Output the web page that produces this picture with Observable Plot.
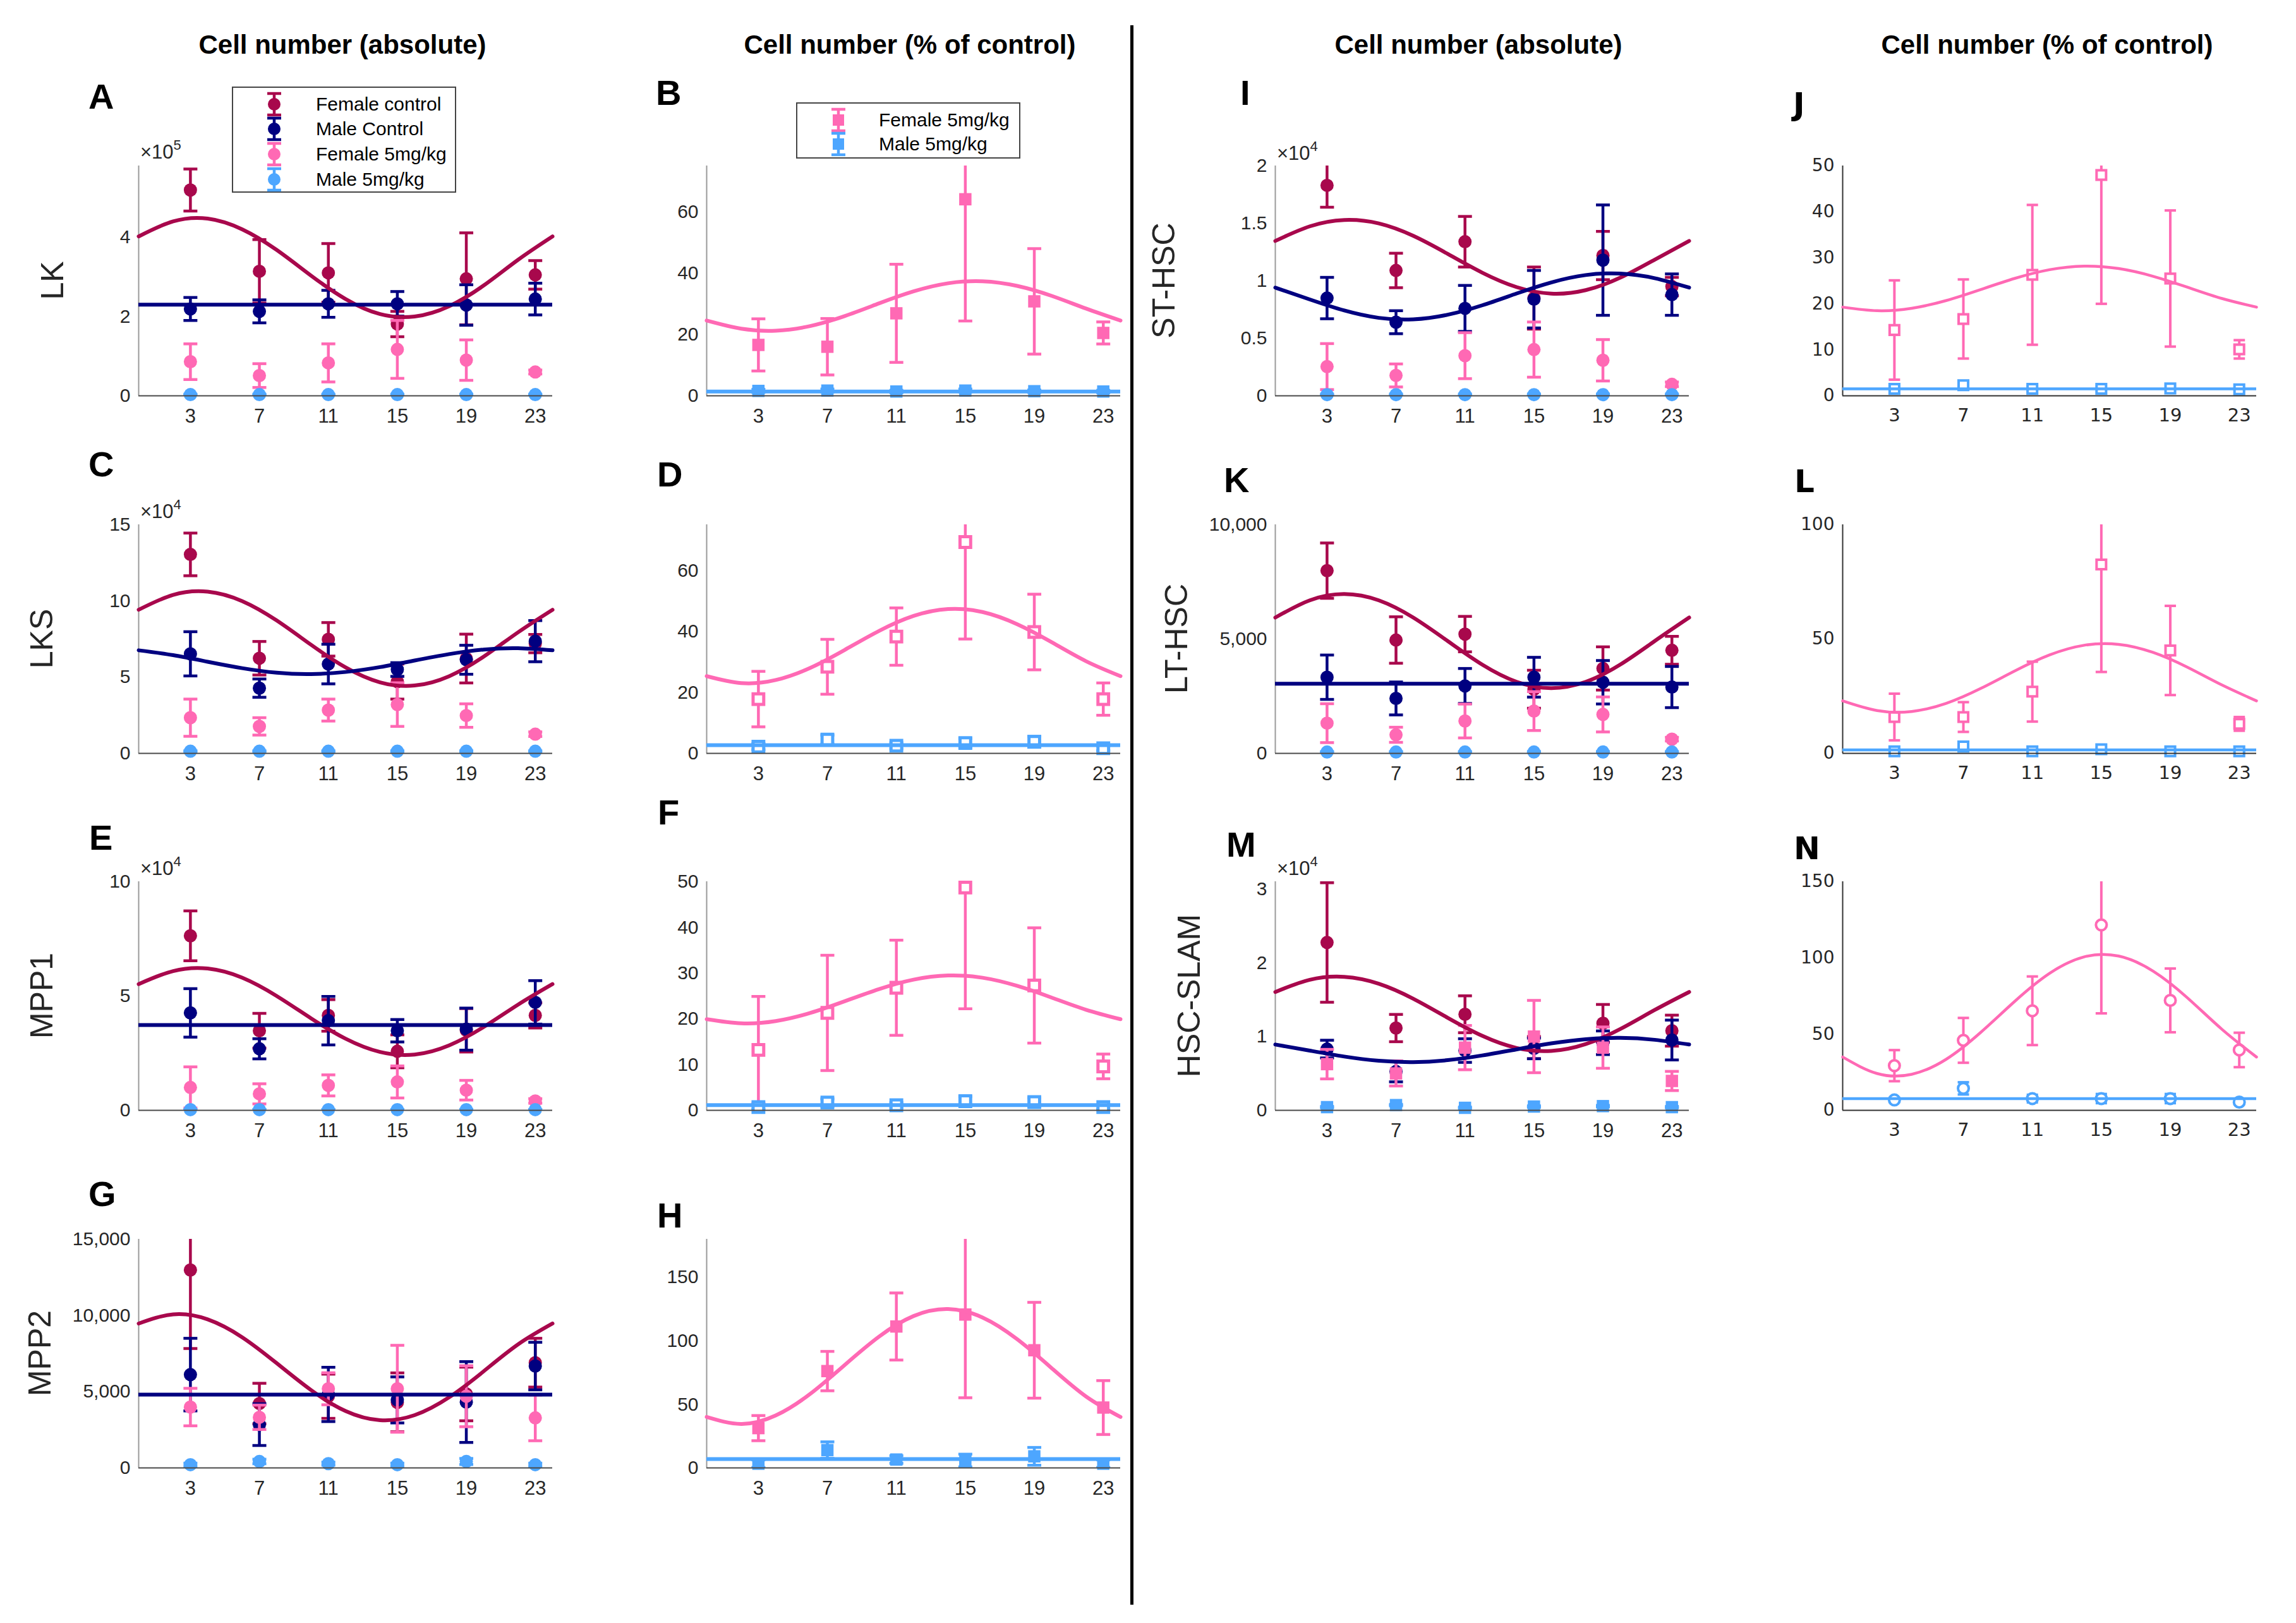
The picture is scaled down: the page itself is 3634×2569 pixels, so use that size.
<!DOCTYPE html>
<html><head><meta charset="utf-8">
<script src="https://cdn.jsdelivr.net/npm/d3@7"></script>
<script src="https://cdn.jsdelivr.net/npm/@observablehq/plot@0.6"></script>
<style>
html,body{margin:0;padding:0;background:#fff;}
#fig{position:relative;width:3634px;height:2569px;background:#fff;overflow:hidden;font-family:"Liberation Sans",Arial,sans-serif;color:#262626;}
#fig > div{position:absolute;}
.title{font-weight:bold;font-size:42px;color:#000;white-space:nowrap;transform:translateX(-50%);line-height:1;}
.letter{font-weight:bold;font-size:56px;color:#000;line-height:1;}
.letter4{font-family:"DejaVu Sans",sans-serif;font-weight:bold;font-size:50px;color:#000;line-height:1;}
.ylab{font-size:50px;white-space:nowrap;transform:translate(-50%,-50%) rotate(-90deg);line-height:1;color:#262626;}
.expo{font-size:31px;white-space:nowrap;line-height:1;color:#262626;}
.expo sup{font-size:22px;position:relative;top:-14px;vertical-align:baseline;}
.legend{background:#fff;border:2px solid #444;box-sizing:border-box;}
.legend .row{position:absolute;display:flex;align-items:center;font-size:30px;white-space:nowrap;color:#000;}
</style>
</head><body>
<div id="fig"></div>
<script>
// ---------- shared categories ----------
const hours = [3, 7, 11, 15, 19, 23];
const fitHours = [0, 2, 4, 6, 8, 10, 12, 14, 16, 18, 20, 22, 24];
const xTickValues = [3, 7, 11, 15, 19, 23];
const groupNames = ["Female control", "Male Control", "Female 5mg/kg", "Male 5mg/kg"];
const groupColors = ["#a8084c", "#000080", "#ff69b4", "#4da6ff"];
const columnTitles = ["Cell number (absolute)", "Cell number (% of control)", "Cell number (absolute)", "Cell number (% of control)"];
const panelLetters = ["A","B","C","D","E","F","G","H","I","J","K","L","M","N"];
const rowLabels = ["LK", "LKS", "MPP1", "MPP2", "ST-HSC", "LT-HSC", "HSC-SLAM"];

// ---------- A: LK (x10^5) ----------
const A_fc = [5.19, 3.14, 3.10, 1.81, 2.95, 3.05];
const A_fcErr = [0.53, 0.80, 0.74, 0.32, 1.16, 0.36];
const A_mc = [2.19, 2.13, 2.32, 2.32, 2.29, 2.44];
const A_mcErr = [0.29, 0.29, 0.34, 0.31, 0.51, 0.40];
const A_fd = [0.86, 0.51, 0.83, 1.17, 0.90, 0.60];
const A_fdErr = [0.45, 0.30, 0.48, 0.73, 0.51, 0.05];
const A_md = [0.03, 0.03, 0.03, 0.03, 0.03, 0.03];
const A_mdErr = [0.01, 0.01, 0.01, 0.01, 0.01, 0.01];
const A_fcFit = [4.02, 4.40, 4.47, 4.20, 3.68, 3.03, 2.44, 2.06, 2.00, 2.26, 2.78, 3.43, 4.02];
const A_mcFit = 2.30;
const A_yTicks = [0, 2, 4];

// ---------- C: LKS (x10^4) ----------
const C_fc = [13.05, 6.24, 7.48, 4.71, 6.22, 7.20];
const C_fcErr = [1.40, 1.10, 1.10, 1.15, 1.60, 0.60];
const C_mc = [6.53, 4.28, 5.86, 5.50, 6.14, 7.36];
const C_mcErr = [1.45, 0.60, 1.30, 0.45, 0.95, 1.35];
const C_fd = [2.34, 1.77, 2.84, 3.20, 2.48, 1.26];
const C_fdErr = [1.22, 0.57, 0.72, 1.43, 0.77, 0.15];
const C_md = [0.14, 0.14, 0.14, 0.14, 0.14, 0.14];
const C_mdErr = [0.03, 0.03, 0.03, 0.03, 0.03, 0.03];
const C_fcFit = [9.42, 10.40, 10.61, 9.99, 8.72, 7.12, 5.64, 4.66, 4.45, 5.06, 6.34, 7.94, 9.42];
const C_mcFit = [6.76, 6.44, 6.01, 5.59, 5.29, 5.20, 5.34, 5.66, 6.09, 6.51, 6.81, 6.90, 6.76];
const C_yTicks = [0, 5, 10, 15];

// ---------- E: MPP1 (x10^4) ----------
const E_fc = [7.63, 3.48, 4.15, 2.58, 3.50, 4.15];
const E_fcErr = [1.09, 0.76, 0.69, 0.72, 0.95, 0.55];
const E_mc = [4.26, 2.69, 3.92, 3.48, 3.55, 4.72];
const E_mcErr = [1.06, 0.44, 1.06, 0.49, 0.92, 0.95];
const E_fd = [1.00, 0.72, 1.09, 1.24, 0.88, 0.41];
const E_fdErr = [0.90, 0.44, 0.46, 0.70, 0.43, 0.10];
const E_md = [0.03, 0.03, 0.03, 0.03, 0.03, 0.03];
const E_mdErr = [0.01, 0.01, 0.01, 0.01, 0.01, 0.01];
const E_fcFit = [5.52, 6.09, 6.20, 5.80, 5.00, 4.02, 3.13, 2.55, 2.44, 2.84, 3.64, 4.62, 5.52];
const E_mcFit = 3.73;
const E_yTicks = [0, 5, 10];

// ---------- G: MPP2 ----------
const G_fc = [12980, 4220, 4700, 4300, 4850, 6900];
const G_fcErr = [5150, 1330, 1450, 1930, 1760, 1600];
const G_mc = [6120, 2840, 4820, 4460, 4320, 6680];
const G_mcErr = [2380, 1370, 1780, 1510, 2650, 1560];
const G_fd = [3990, 3320, 5190, 5190, 4700, 3280];
const G_fdErr = [1230, 800, 1050, 2850, 2000, 1500];
const G_md = [210, 420, 280, 210, 420, 210];
const G_mdErr = [100, 150, 100, 100, 200, 100];
const G_fcFit = [9470, 10070, 9740, 8570, 6870, 5100, 3730, 3130, 3460, 4630, 6330, 8100, 9470];
const G_mcFit = 4810;
const G_yTicks = [0, 5000, 10000, 15000];

// ---------- B, D, F, H: % of control ----------
const B_fd = [16.6, 16.0, 26.9, 64.1, 30.8, 20.5];
const B_fdErr = [8.5, 9.2, 16.0, 39.7, 17.2, 3.6];
const B_md = [1.6, 1.7, 1.4, 1.7, 1.5, 1.4];
const B_mdErr = [0.5, 0.5, 0.4, 0.5, 0.4, 0.4];
const B_fdFit = [24.54, 21.90, 21.24, 22.75, 26.00, 30.15, 34.06, 36.70, 37.36, 35.85, 32.60, 28.45, 24.54];
const B_mdFit = 1.4;
const B_yTicks = [0, 20, 40, 60];

const D_fd = [17.8, 28.4, 38.3, 69.3, 39.8, 17.8];
const D_fdErr = [9.1, 9.0, 9.4, 31.8, 12.4, 5.3];
const D_md = [2.2, 4.5, 2.5, 3.4, 3.8, 1.7];
const D_mdErr = [1.0, 1.5, 1.0, 1.5, 1.8, 0.8];
const D_fdFit = [25.33, 23.06, 24.05, 28.03, 33.92, 40.17, 45.07, 47.34, 46.35, 42.37, 36.48, 30.23, 25.33];
const D_mdFit = 2.7;
const D_yTicks = [0, 20, 40, 60];

const F_fd = [13.2, 21.3, 26.8, 48.7, 27.3, 9.6];
const F_fdErr = [11.7, 12.6, 10.4, 26.5, 12.6, 2.7];
const F_md = [0.7, 1.7, 1.1, 2.0, 1.8, 0.7];
const F_mdErr = [0.5, 0.8, 0.6, 1.0, 0.9, 0.5];
const F_fdFit = [19.92, 19.02, 19.51, 21.28, 23.84, 26.51, 28.58, 29.48, 28.99, 27.22, 24.66, 21.99, 19.92];
const F_mdFit = 1.15;
const F_yTicks = [0, 10, 20, 30, 40, 50];

const H_fd = [31.3, 76.2, 111.3, 120.7, 92.6, 47.5];
const H_fdErr = [9.9, 15.5, 26.4, 65.5, 37.7, 21.2];
const H_md = [3.3, 14.0, 6.6, 5.8, 9.1, 3.3];
const H_mdErr = [3.0, 6.5, 3.0, 5.0, 7.0, 3.0];
const H_fdFit = [40.07, 34.61, 41.24, 58.24, 80.98, 103.39, 119.53, 125.0, 118.36, 101.36, 78.62, 56.21, 40.07];
const H_mdFit = 6.9;
const H_yTicks = [0, 50, 100, 150];

// ---------- I: ST-HSC (x10^4) ----------
const I_fc = [1.83, 1.09, 1.34, 0.85, 1.22, 0.95];
const I_fcErr = [0.19, 0.15, 0.22, 0.27, 0.21, 0.08];
const I_mc = [0.85, 0.64, 0.76, 0.84, 1.18, 0.88];
const I_mcErr = [0.18, 0.10, 0.20, 0.25, 0.48, 0.18];
const I_fd = [0.254, 0.177, 0.349, 0.402, 0.309, 0.10];
const I_fdErr = [0.20, 0.10, 0.20, 0.24, 0.18, 0.02];
const I_md = [0.01, 0.01, 0.01, 0.01, 0.01, 0.01];
const I_mdErr = [0.005, 0.005, 0.005, 0.005, 0.005, 0.005];
const I_fcFit = [1.347, 1.474, 1.529, 1.499, 1.391, 1.234, 1.071, 0.945, 0.889, 0.919, 1.027, 1.184, 1.347];
const I_mcFit = [0.941, 0.838, 0.742, 0.678, 0.665, 0.705, 0.787, 0.890, 0.986, 1.050, 1.063, 1.023, 0.941];
const I_yTicks = [0, 0.5, 1, 1.5, 2];

// ---------- K: LT-HSC ----------
const K_fc = [7990, 4957, 5215, 2804, 3713, 4507];
const K_fcErr = [1210, 1015, 775, 830, 945, 610];
const K_mc = [3330, 2402, 2947, 3330, 3110, 2900];
const K_mcErr = [970, 720, 765, 870, 950, 900];
const K_fd = [1321, 813, 1416, 1850, 1703, 622];
const K_fdErr = [850, 330, 740, 850, 765, 80];
const K_md = [60, 60, 60, 60, 60, 60];
const K_mdErr = [20, 20, 20, 20, 20, 20];
const K_fcFit = [5939, 6692, 6968, 6692, 5939, 4910, 3881, 3128, 2852, 3128, 3881, 4910, 5939];
const K_mcFit = 3043;
const K_yTicks = [0, 5000, 10000];

// ---------- M: HSC-SLAM (x10^4) ----------
const M_fc = [2.275, 1.115, 1.302, 0.85, 1.18, 1.08];
const M_fcErr = [0.81, 0.185, 0.25, 0.15, 0.255, 0.21];
const M_mc = [0.83, 0.526, 0.81, 0.839, 0.916, 0.953];
const M_mcErr = [0.12, 0.14, 0.16, 0.14, 0.16, 0.27];
const M_fd = [0.626, 0.50, 0.85, 1.00, 0.85, 0.398];
const M_fdErr = [0.20, 0.17, 0.30, 0.49, 0.28, 0.13];
const M_md = [0.043, 0.071, 0.034, 0.051, 0.057, 0.043];
const M_mdErr = [0.01, 0.01, 0.01, 0.01, 0.01, 0.01];
const M_fcFit = [1.604, 1.769, 1.809, 1.716, 1.513, 1.254, 1.010, 0.845, 0.805, 0.898, 1.101, 1.360, 1.604];
const M_mcFit = [0.892, 0.809, 0.729, 0.672, 0.654, 0.680, 0.744, 0.827, 0.907, 0.964, 0.982, 0.956, 0.892];
const M_yTicks = [0, 1, 2, 3];

// ---------- J, L, N: % of control ----------
const J_fd = [14.3, 16.7, 26.3, 48.0, 25.5, 10.1];
const J_fdErr = [10.8, 8.6, 15.2, 28.0, 14.8, 2.0];
const J_md = [1.5, 2.3, 1.5, 1.5, 1.6, 1.4];
const J_mdErr = [0.6, 0.6, 0.6, 0.6, 0.8, 0.4];
const J_fdFit = [19.28, 18.50, 19.03, 20.71, 23.10, 25.55, 27.42, 28.20, 27.67, 25.99, 23.60, 21.15, 19.28];
const J_mdFit = 1.5;
const J_yTicks = [0, 10, 20, 30, 40, 50];

const L_fd = [15.9, 15.9, 27.0, 82.6, 45.0, 12.9];
const L_fdErr = [10.2, 6.5, 13.1, 47.0, 19.5, 3.0];
const L_md = [0.9, 3.0, 0.9, 1.8, 0.9, 0.9];
const L_mdErr = [0.5, 1.0, 0.5, 0.5, 0.5, 0.5];
const L_fdFit = [22.96, 18.73, 18.33, 21.85, 28.36, 36.12, 43.04, 47.27, 47.67, 44.15, 37.64, 29.88, 22.96];
const L_mdFit = 1.5;
const L_yTicks = [0, 50, 100];

const N_fd = [29.3, 45.9, 65.3, 121.6, 72.1, 39.6];
const N_fdErr = [10.2, 14.7, 22.5, 58.0, 20.9, 11.3];
const N_md = [6.8, 14.4, 7.7, 7.7, 7.7, 5.4];
const N_mdErr = [1.5, 4.0, 2.5, 3.0, 3.0, 1.5];
const N_fdFit = [34.95, 24.14, 23.62, 33.47, 51.07, 71.70, 89.85, 100.66, 101.18, 91.33, 73.73, 53.10, 34.95];
const N_mdFit = 7.7;
const N_yTicks = [0, 50, 100, 150];

// ---------- drawing ----------
const fig = document.getElementById("fig");
const [FC, MC, FD, MD] = groupColors;
const capSymbol = {draw(ctx, size) { const r = Math.sqrt(size / Math.PI); ctx.moveTo(-r, 0); ctx.lineTo(r, 0); }};
const fmtG = d3.format("~g");
const fmtComma = d3.format(",");

function rows(mean, err) {
  return hours.map((h, i) => ({h, v: mean[i], lo: mean[i] - err[i], hi: mean[i] + err[i]}));
}
function fitRows(fit) { return fitHours.map((h, i) => ({h, v: fit[i]})); }

const COLS = [219, 1118, 2018, 2916];
const ROWS = [[262, 364], [830, 362], [1395, 362], [1961, 362]];
const FW = 655, ML = 140, MR = 20, MT = 24, MB = 70;

function panel(cfg) {
  const thin = !!cfg.thin;
  const st = thin ? {eb: 4, cap: 9, fit: 4.5, font: "DejaVu Sans", fs: 28, yAxis: "#333"}
                  : {eb: 4.5, cap: 11, fit: 6, font: "Liberation Sans", fs: 30, yAxis: "#9a9a9a"};
  const x0 = COLS[cfg.col], [y0, h] = ROWS[cfg.row];
  const marks = [Plot.ruleX([0], {stroke: st.yAxis, strokeWidth: 2})];
  for (const s of cfg.series) {
    const d = rows(s.mean, s.err);
    marks.push(Plot.ruleX(d, {x: "h", y1: "lo", y2: "hi", stroke: s.color, strokeWidth: st.eb, clip: true}));
    marks.push(Plot.dot(d, {x: "h", y: "hi", symbol: capSymbol, r: st.cap, fill: "none", stroke: s.color, strokeWidth: st.eb, clip: true}));
    marks.push(Plot.dot(d, {x: "h", y: "lo", symbol: capSymbol, r: st.cap, fill: "none", stroke: s.color, strokeWidth: st.eb, clip: true}));
    marks.push(Plot.dot(d, {x: "h", y: "v", symbol: s.symbol, r: s.r,
      fill: s.open ? "white" : s.color, stroke: s.open ? s.color : "none", strokeWidth: s.open ? s.sw : 0}));
  }
  for (const f of cfg.fits) {
    if (Array.isArray(f.values)) marks.push(Plot.line(fitRows(f.values), {x: "h", y: "v", curve: "natural", stroke: f.color, strokeWidth: st.fit}));
    else marks.push(Plot.ruleY([f.values], {stroke: f.color, strokeWidth: st.fit}));
  }
  marks.push(Plot.ruleY([0], {stroke: thin ? "#333" : "#4a4a4a", strokeWidth: 2}));
  marks.push(Plot.axisX({ticks: xTickValues, tickSize: 0, tickPadding: 20, fontSize: st.fs + 1, fontFamily: st.font, label: null}));
  marks.push(Plot.axisY({ticks: cfg.yTicks, tickFormat: cfg.fmt || fmtG, tickSize: 0, tickPadding: 13, fontSize: st.fs, fontFamily: st.font, label: null}));
  const svg = Plot.plot({
    width: ML + FW + MR, height: MT + h + MB,
    marginLeft: ML, marginRight: MR, marginTop: MT, marginBottom: MB,
    x: {domain: [0, 24], label: null},
    y: {domain: [0, cfg.ymax], label: null},
    style: {background: "transparent", color: "#262626", fontFamily: st.font, fontSize: st.fs + "px", overflow: "visible"},
    marks
  });
  const wrap = document.createElement("div");
  Object.assign(wrap.style, {left: (x0 - ML) + "px", top: (y0 - MT) + "px", width: (ML + FW + MR) + "px", height: (MT + h + MB) + "px"});
  wrap.appendChild(svg);
  fig.appendChild(wrap);
}

const circ = (mean, err, color) => ({mean, err, color, symbol: "circle", r: 10.5});
const sq = (mean, err, color) => ({mean, err, color, symbol: "square", r: 11});
const osq = (mean, err, color, r = 9.5, sw = 5) => ({mean, err, color, symbol: "square", r, open: true, sw});
const ocirc = (mean, err, color) => ({mean, err, color, symbol: "circle", r: 8.5, open: true, sw: 4});

// column 1
panel({col: 0, row: 0, ymax: 5.8, yTicks: A_yTicks,
  series: [circ(A_fc, A_fcErr, FC), circ(A_mc, A_mcErr, MC), circ(A_fd, A_fdErr, FD), circ(A_md, A_mdErr, MD)],
  fits: [{values: A_fcFit, color: FC}, {values: A_mcFit, color: MC}]});
panel({col: 0, row: 1, ymax: 15, yTicks: C_yTicks,
  series: [circ(C_fc, C_fcErr, FC), circ(C_mc, C_mcErr, MC), circ(C_fd, C_fdErr, FD), circ(C_md, C_mdErr, MD)],
  fits: [{values: C_fcFit, color: FC}, {values: C_mcFit, color: MC}]});
panel({col: 0, row: 2, ymax: 10, yTicks: E_yTicks,
  series: [circ(E_fc, E_fcErr, FC), circ(E_mc, E_mcErr, MC), circ(E_fd, E_fdErr, FD), circ(E_md, E_mdErr, MD)],
  fits: [{values: E_fcFit, color: FC}, {values: E_mcFit, color: MC}]});
panel({col: 0, row: 3, ymax: 15000, yTicks: G_yTicks, fmt: fmtComma,
  series: [circ(G_fc, G_fcErr, FC), circ(G_mc, G_mcErr, MC), circ(G_fd, G_fdErr, FD), circ(G_md, G_mdErr, MD)],
  fits: [{values: G_fcFit, color: FC}, {values: G_mcFit, color: MC}]});
// column 2
panel({col: 1, row: 0, ymax: 75, yTicks: B_yTicks,
  series: [sq(B_fd, B_fdErr, FD), sq(B_md, B_mdErr, MD)],
  fits: [{values: B_fdFit, color: FD}, {values: B_mdFit, color: MD}]});
panel({col: 1, row: 1, ymax: 75, yTicks: D_yTicks,
  series: [osq(D_fd, D_fdErr, FD), osq(D_md, D_mdErr, MD)],
  fits: [{values: D_fdFit, color: FD}, {values: D_mdFit, color: MD}]});
panel({col: 1, row: 2, ymax: 50, yTicks: F_yTicks,
  series: [osq(F_fd, F_fdErr, FD), osq(F_md, F_mdErr, MD)],
  fits: [{values: F_fdFit, color: FD}, {values: F_mdFit, color: MD}]});
panel({col: 1, row: 3, ymax: 180, yTicks: H_yTicks,
  series: [sq(H_fd, H_fdErr, FD), sq(H_md, H_mdErr, MD)],
  fits: [{values: H_fdFit, color: FD}, {values: H_mdFit, color: MD}]});
// column 3
panel({col: 2, row: 0, ymax: 2, yTicks: I_yTicks,
  series: [circ(I_fc, I_fcErr, FC), circ(I_mc, I_mcErr, MC), circ(I_fd, I_fdErr, FD), circ(I_md, I_mdErr, MD)],
  fits: [{values: I_fcFit, color: FC}, {values: I_mcFit, color: MC}]});
panel({col: 2, row: 1, ymax: 10000, yTicks: K_yTicks, fmt: fmtComma,
  series: [circ(K_fc, K_fcErr, FC), circ(K_mc, K_mcErr, MC), circ(K_fd, K_fdErr, FD), circ(K_md, K_mdErr, MD)],
  fits: [{values: K_fcFit, color: FC}, {values: K_mcFit, color: MC}]});
panel({col: 2, row: 2, ymax: 3.1, yTicks: M_yTicks,
  series: [circ(M_fc, M_fcErr, FC), circ(M_mc, M_mcErr, MC), sq(M_fd, M_fdErr, FD), sq(M_md, M_mdErr, MD)],
  fits: [{values: M_fcFit, color: FC}, {values: M_mcFit, color: MC}]});
// column 4
panel({col: 3, row: 0, ymax: 50, yTicks: J_yTicks, thin: true,
  series: [osq(J_fd, J_fdErr, FD, 8.5, 4), osq(J_md, J_mdErr, MD, 8.5, 4)],
  fits: [{values: J_fdFit, color: FD}, {values: J_mdFit, color: MD}]});
panel({col: 3, row: 1, ymax: 100, yTicks: L_yTicks, thin: true,
  series: [osq(L_fd, L_fdErr, FD, 8.5, 4), osq(L_md, L_mdErr, MD, 8.5, 4)],
  fits: [{values: L_fdFit, color: FD}, {values: L_mdFit, color: MD}]});
panel({col: 3, row: 2, ymax: 150, yTicks: N_yTicks, thin: true,
  series: [ocirc(N_fd, N_fdErr, FD), ocirc(N_md, N_mdErr, MD)],
  fits: [{values: N_fdFit, color: FD}, {values: N_mdFit, color: MD}]});

// ---------- text & decorations ----------
function addDiv(cls, style, text, html) {
  const d = document.createElement("div");
  if (cls) d.className = cls;
  Object.assign(d.style, style);
  if (html) d.innerHTML = html; else d.textContent = text;
  fig.appendChild(d);
  return d;
}
// divider
addDiv("", {left: "1789px", top: "40px", width: "5px", height: "2500px", background: "#000"}, "");
// column titles
const titleX = [542, 1440, 2340, 3240];
columnTitles.forEach((t, i) => addDiv("title", {left: titleX[i] + "px", top: "50px"}, t));
// panel letters
const letterPos = {
  A: [140, 125], B: [1038, 119], C: [140, 707], D: [1040, 723], E: [141, 1298], F: [1041, 1258], G: [140, 1862], H: [1040, 1896],
  I: [1963, 119], K: [1937, 732], M: [1941, 1309], J: [2838, 140], L: [2840, 737], N: [2839, 1318]
};
panelLetters.forEach(L => {
  const [x, y] = letterPos[L];
  addDiv(["J", "L", "N"].includes(L) ? "letter4" : "letter", {left: x + "px", top: y + "px"}, L);
});
// y labels
const ylabPos = [[83, 444], [66, 1011], [66, 1576], [63, 2142], [1842, 444], [1862, 1011], [1882, 1576]];
rowLabels.forEach((t, i) => addDiv("ylab", {left: ylabPos[i][0] + "px", top: ylabPos[i][1] + "px"}, t));
// exponent labels
const expoLabels = [[222, 225, "5"], [222, 794, "4"], [222, 1359, "4"], [2021, 227, "4"], [2021, 1359, "4"]];
expoLabels.forEach(([x, y, e]) => addDiv("expo", {left: x + "px", top: y + "px"}, "", "×10<sup>" + e + "</sup>"));

// legends
function icon(color, shape) {
  const m = shape === "circle" ? `<circle cx="22" cy="22" r="10" fill="${color}"/>` : `<rect x="13" y="13" width="18" height="18" fill="${color}"/>`;
  return `<svg width="44" height="44" viewBox="0 0 44 44"><g stroke="${color}" stroke-width="4.5"><line x1="22" y1="5" x2="22" y2="39"/><line x1="11" y1="5" x2="33" y2="5"/><line x1="11" y1="39" x2="33" y2="39"/></g>${m}</svg>`;
}
const legA = addDiv("legend", {left: "367px", top: "137px", width: "355px", height: "168px"}, "");
[26, 65, 105, 145].forEach((cy, i) => {
  const r = document.createElement("div");
  r.className = "row";
  Object.assign(r.style, {left: "43px", top: (cy - 22) + "px", height: "44px"});
  r.innerHTML = icon(groupColors[i], "circle") + `<span style="margin-left:44px">${groupNames[i]}</span>`;
  legA.appendChild(r);
});
const legB = addDiv("legend", {left: "1260px", top: "162px", width: "355px", height: "89px"}, "");
[26, 64].forEach((cy, i) => {
  const r = document.createElement("div");
  r.className = "row";
  Object.assign(r.style, {left: "43px", top: (cy - 22) + "px", height: "44px"});
  r.innerHTML = icon(groupColors[i + 2], "square") + `<span style="margin-left:42px">${groupNames[i + 2]}</span>`;
  legB.appendChild(r);
});
</script>
</body></html>
